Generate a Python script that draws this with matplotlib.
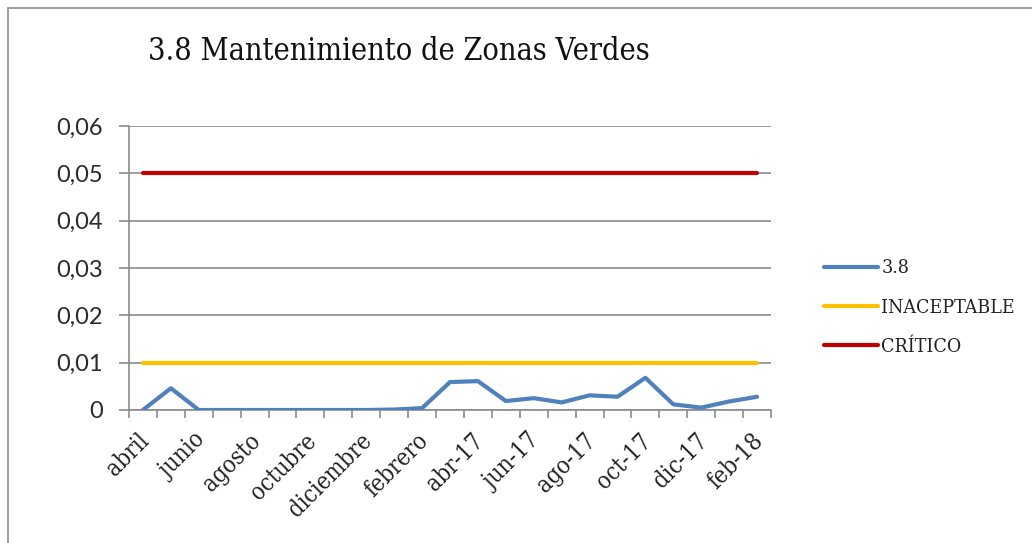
import matplotlib
matplotlib.use("Agg")
import matplotlib.pyplot as plt
from matplotlib.ticker import FuncFormatter, FixedLocator
from matplotlib.patches import Rectangle

months = ["abril", "mayo", "junio", "julio", "agosto", "septiembre", "octubre",
          "noviembre", "diciembre", "enero", "febrero", "marzo",
          "abr-17", "may-17", "jun-17", "jul-17", "ago-17", "sep-17",
          "oct-17", "nov-17", "dic-17", "ene-18", "feb-18"]
serie_38 = [0.0, 0.0046, 0.0, 0.0, 0.0, 0.0, 0.0, 0.0, 0.0, 0.0001, 0.0004,
            0.0059, 0.0061, 0.0019, 0.0025, 0.0016, 0.0031, 0.0028,
            0.0068, 0.0012, 0.0005, 0.0018, 0.0028]
inaceptable = [0.01] * len(months)
critico = [0.05] * len(months)

serif = {"family": "DejaVu Serif", "stretch": "condensed"}
label_font = "Lato"

fig = plt.figure(figsize=(10.32, 5.43), dpi=100)
fig.patches.append(Rectangle((8 / 1032, -0.1), 1.2, (543 - 8) / 543 + 0.1,
                             transform=fig.transFigure, fill=False,
                             edgecolor="#8c8c8c", linewidth=1.2))

ax = fig.add_axes([129 / 1032, 1 - 410 / 543, (771 - 129) / 1032, (410 - 126) / 543])
x = list(range(len(months)))
ax.plot(x, serie_38, color="#4F81BD", lw=3, solid_capstyle="round",
        solid_joinstyle="round", label="3.8", zorder=4)
ax.plot(x, inaceptable, color="#FFC000", lw=3, solid_capstyle="round",
        label="INACEPTABLE", zorder=3)
ax.plot(x, critico, color="#C00000", lw=3, solid_capstyle="round",
        label="CRÍTICO", zorder=3)

ax.set_xlim(-0.5, len(months) - 0.5)
ax.set_ylim(0, 0.06)
ax.set_yticks([0, 0.01, 0.02, 0.03, 0.04, 0.05, 0.06])
ax.yaxis.set_major_formatter(FuncFormatter(
    lambda v, p: "0" if v == 0 else f"{v:.2f}".replace(".", ",")))
ax.grid(axis="y", color="#8c8c8c", lw=1.2)
ax.set_axisbelow(True)

# label anchors sit a little left of the category centre, as in the original
ax.set_xticks([i - 0.2 for i in x[::2]])
ax.set_xticklabels(months[::2], rotation=45, ha="right", rotation_mode="anchor",
                   fontsize=17, color="#222222", **serif)
ax.xaxis.set_minor_locator(FixedLocator([i - 0.5 for i in range(len(months) + 1)]))
ax.tick_params(axis="x", which="major", length=0, pad=14)
ax.tick_params(axis="x", which="minor", length=6, color="#8c8c8c", width=1.2)
ax.tick_params(axis="y", length=7, color="#8c8c8c", width=1.2, pad=12,
               labelsize=17, labelcolor="#2a2a2a")
for lab in ax.get_yticklabels():
    lab.set_family(label_font)

for s in ["top", "right"]:
    ax.spines[s].set_visible(False)
for s in ["left", "bottom"]:
    ax.spines[s].set_color("#8c8c8c")
    ax.spines[s].set_linewidth(1.2)

fig.text(148 / 1032, 1 - 52 / 543, "3.8 Mantenimiento de Zonas Verdes",
         fontsize=22, va="center", ha="left", color="#111111", **serif)

leg = ax.legend(loc="center left", bbox_to_anchor=(1.055, 0.36), frameon=False,
                prop={**serif, "size": 14}, handlelength=2.8,
                handletextpad=0.15, labelspacing=1.1)
for t in leg.get_texts():
    t.set_color("#222222")

fig.savefig("out.png", dpi=100)
